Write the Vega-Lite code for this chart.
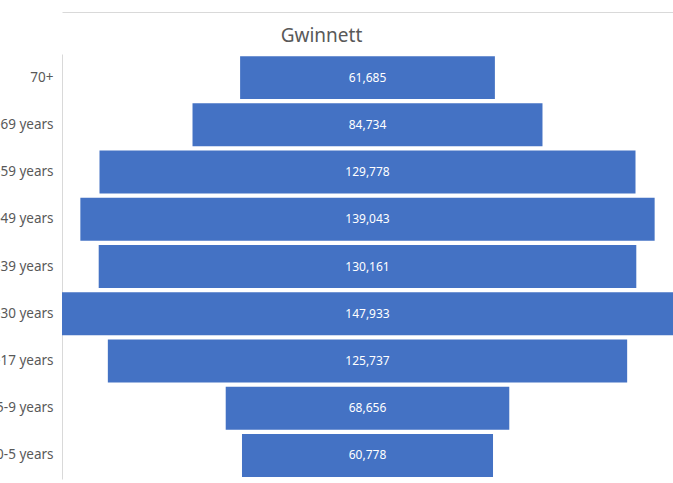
{
  "$schema": "https://vega.github.io/schema/vega-lite/v6.json",
  "autosize": {"type": "none"},
  "padding": {"left": 62, "top": 54, "right": 0, "bottom": 4},
  "width": 611,
  "height": 425,
  "background": "white",
  "data": {
    "values": [
      {"age": "70+", "population": 61685},
      {"age": "60-69 years", "population": 84734},
      {"age": "50-59 years", "population": 129778},
      {"age": "40-49 years", "population": 139043},
      {"age": "30-39 years", "population": 130161},
      {"age": "18-30 years", "population": 147933},
      {"age": "10-17 years", "population": 125737},
      {"age": "5-9 years", "population": 68656},
      {"age": "0-5 years", "population": 60778}
    ]
  },
  "layer": [
    {
      "mark": {"type": "bar", "color": "#4472C4"},
      "encoding": {
        "y": {
          "field": "age",
          "type": "nominal",
          "sort": null,
          "scale": {"paddingInner": 0.09, "paddingOuter": 0.045},
          "axis": {
            "title": null,
            "ticks": false,
            "domainColor": "#d9d9d9",
            "labelPadding": 9,
            "labelColor": "#595959",
            "labelFont": "Noto Sans",
            "labelFontSize": 13.5
          }
        },
        "x": {
          "field": "population",
          "type": "quantitative",
          "stack": "center",
          "scale": {"domain": [0, 147933], "nice": false},
          "axis": {
            "orient": "top",
            "offset": 42,
            "labels": false,
            "ticks": false,
            "grid": false,
            "domainColor": "#d9d9d9",
            "title": "Gwinnett",
            "titleFont": "Noto Sans",
            "titleFontSize": 19,
            "titleFontWeight": "normal",
            "titleColor": "#595959",
            "titleX": 259,
            "titleY": 29,
            "titleAlign": "center",
            "titleBaseline": "alphabetic"
          }
        }
      }
    },
    {
      "mark": {"type": "text", "color": "white", "font": "Noto Sans", "fontSize": 12},
      "encoding": {
        "y": {"field": "age", "type": "nominal", "sort": null},
        "x": {"datum": 73966.5},
        "text": {"field": "population", "type": "quantitative", "format": ","}
      }
    }
  ],
  "config": {"view": {"stroke": null}}
}
